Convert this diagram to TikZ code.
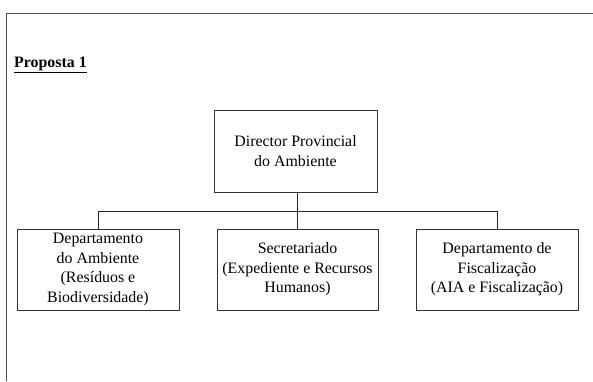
\documentclass[tikz,border=0pt]{standalone}
\usepackage{fontspec}
\setmainfont{Liberation Serif}
\begin{document}
\begin{tikzpicture}[x=1pt,y=-1pt,
  orgbox/.style={draw=black!80, line width=0.9pt, align=center, inner sep=0pt,
    font=\fontsize{15.9}{19.6}\selectfont},
  conn/.style={draw=black!85, line width=0.9pt}]
\useasboundingbox (0,0) rectangle (593,381);
\fill[white] (0,0) rectangle (593,381);
\draw[black!70, line width=1pt] (593,13) -- (6,13) -- (6,381);
\node[anchor=base west, inner sep=0pt, font=\fontsize{15.9}{19}\selectfont\bfseries] (title) at (14,67) {\underline{Proposta 1}};
\node[orgbox, minimum width=163pt, minimum height=82pt] (dir) at (295.5,151) {Director Provincial\\do Ambiente};
\node[orgbox, minimum width=162pt, minimum height=81pt] (dep) at (98,269.5) {Departamento\\do Ambiente\\(Resíduos e\\Biodiversidade)};
\node[orgbox, minimum width=161pt, minimum height=81pt] (sec) at (297.5,269.5) {Secretariado\\(Expediente e Recursos\\Humanos)};
\node[orgbox, minimum width=162pt, minimum height=81pt] (fis) at (497,269.5) {Departamento de\\Fiscalização\\(AIA e Fiscalização)};
\coordinate (bus) at (297,211);
\draw[conn] (dir.south -| sec.north) -- (sec.north);
\draw[conn] (dep.north) -- (dep.north |- bus) -- (fis.north |- bus) -- (fis.north);
\end{tikzpicture}
\end{document}
